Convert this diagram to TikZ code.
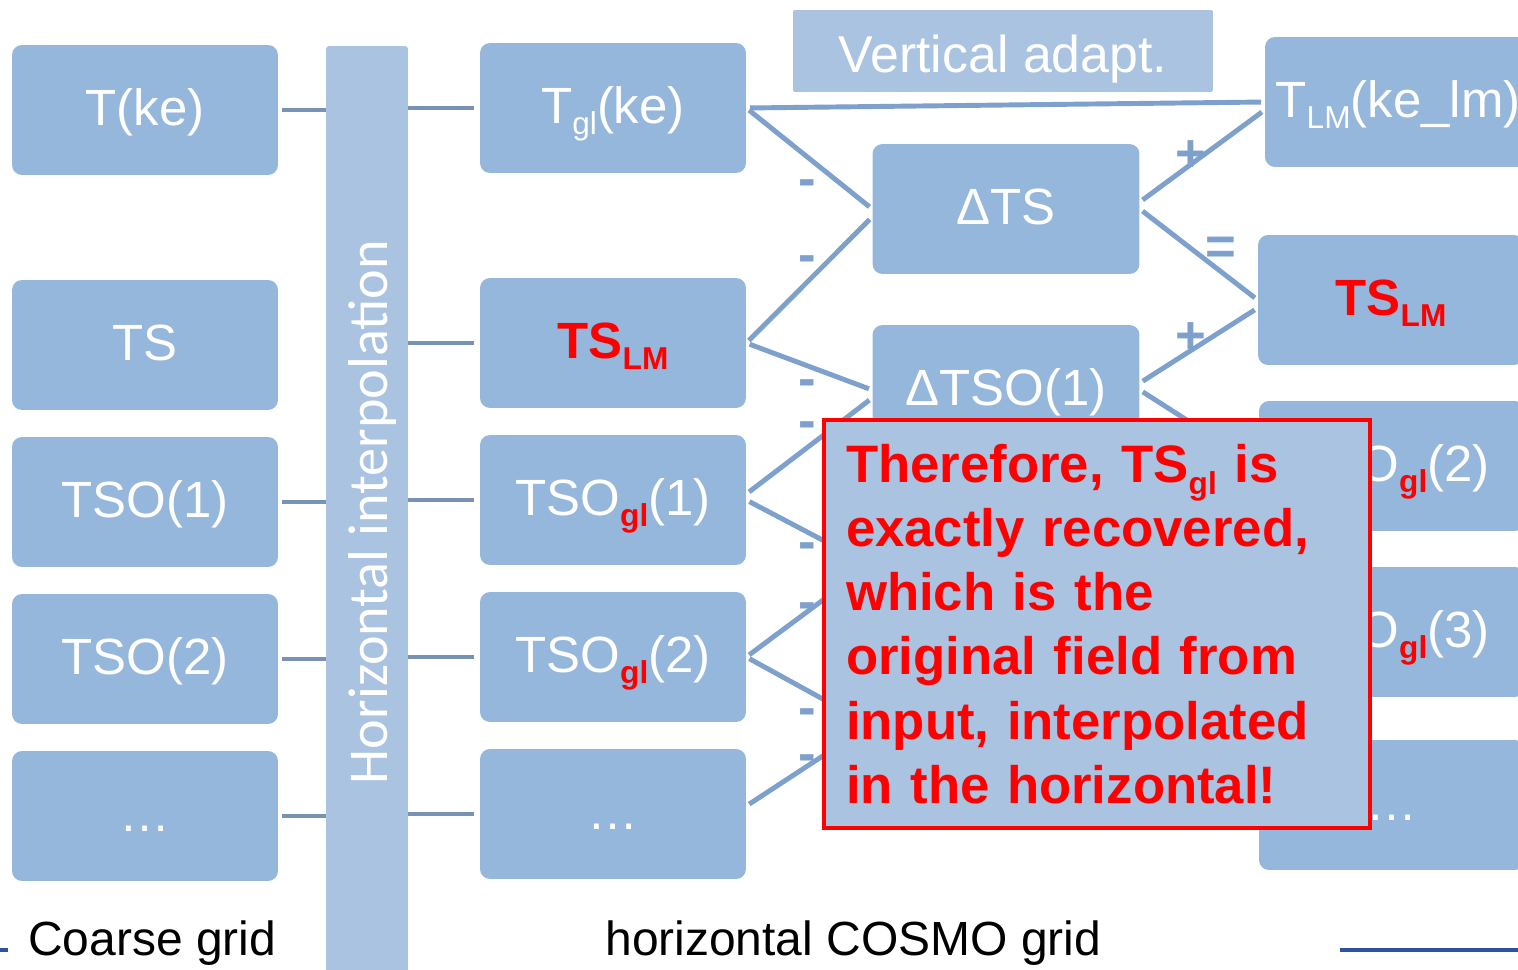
\documentclass[tikz,border=0pt]{standalone}
\usepackage{fontspec}
\setmainfont{Liberation Sans}
\newfontfamily\calfont{Carlito}
\usepackage{tikz}
\definecolor{boxblue}{RGB}{149,183,219}
\definecolor{paleblue}{RGB}{169,195,224}
\definecolor{linkblue}{RGB}{125,160,204}
\definecolor{stubblue}{RGB}{119,146,178}
\definecolor{slidered}{RGB}{255,0,0}
\definecolor{ruleblue}{RGB}{48,80,160}
\newcommand{\lowidx}[1]{\raisebox{-0.23em}{\fontsize{18}{22}\selectfont #1}}
\newcommand{\redidx}[1]{\lowidx{\textcolor{slidered}{\bfseries #1}}}
\tikzstyle{box} = [rectangle, fill=boxblue, rounded corners=0.2cm, minimum width=5.32cm, minimum height=2.6cm, text=white, font=\fontsize{29}{35}\selectfont, text height=23.2pt, text depth=6.1pt, inner sep=0pt]
\tikzstyle{pale} = [rectangle, fill=paleblue, inner sep=0pt]
\tikzstyle{conn} = [draw=linkblue, line width=2.8pt, shorten <=0.07cm, shorten >=0.07cm]
\tikzstyle{stub} = [draw=stubblue, line width=2.8pt]
\tikzstyle{sign} = [text=linkblue, font=\bfseries\fontsize{30}{36}\selectfont, text height=9pt, text depth=0pt, inner sep=0pt, anchor=base]
\tikzstyle{redbox} = [rectangle, fill=paleblue, draw=slidered, line width=2.4pt, minimum width=10.92cm, minimum height=8.16cm, text width=10.04cm, align=left, text=slidered, font=\bfseries\fontsize{30}{36.6}\selectfont, inner sep=0pt]
\tikzstyle{caption} = [anchor=base west, text=black, font=\fontsize{27.3}{33}\selectfont, inner sep=0pt]

\begin{document}
\begin{tikzpicture}
		[x=0.02cm, y=-0.02cm,
		every node/.style={inner sep=0pt}
		]
		\useasboundingbox (0,0) rectangle (1518,970);
		\clip (0,0) rectangle (1518,970);
		% interpolation bar
		\draw (367,511) node[pale, minimum width=1.64cm, minimum height=18.6cm, rounded corners=0.06cm](hbar){};
		\draw (387,512) node[rotate=90, anchor=base, text=white, font=\calfont\fontsize{32}{38}\selectfont](hlabel){Horizontal interpolation};
		\draw (1003,51) node[pale, minimum width=8.4cm, minimum height=1.64cm, rounded corners=0.04cm, text=white, font=\fontsize{29.5}{35}\selectfont, text height=27pt, text depth=3pt](vadapt){Vertical adapt.};
		% coarse grid
		\draw (145,110) node[box](c1){T(ke)};
		\draw (145,345) node[box](c2){TS};
		\draw (145,502) node[box](c3){TSO(1)};
		\draw (145,659) node[box](c4){TSO(2)};
		\draw (145,816) node[box](c5){…};
		% cosmo grid
		\draw (613,108) node[box](m1){T\lowidx{gl}(ke)};
		\draw (613,343) node[box](m2){\textcolor{slidered}{\bfseries TS\lowidx{LM}}};
		\draw (613,500) node[box](m3){TSO\redidx{gl}(1)};
		\draw (613,657) node[box](m4){TSO\redidx{gl}(2)};
		\draw (613,814) node[box](m5){…};
		\draw (1006,209) node[box, minimum width=5.34cm](dts){ΔTS};
		\draw (1006,390) node[box, minimum width=5.34cm](dso1){ΔTSO(1)};
		\coordinate (dso2) at (870,565);
		\coordinate (dso3) at (870,725);
		\draw (1398,102) node[box](r1){T\lowidx{LM}(ke\_lm)};
		\draw (1391,300) node[box](r2){\textcolor{slidered}{\bfseries TS\lowidx{LM}}};
		\draw (1392,466) node[box](r3){TSO\redidx{gl}(2)};
		\draw (1392,632) node[box](r4){TSO\redidx{gl}(3)};
		\draw (1392,805) node[box](r5){…};
		% stubs to the bar
		\foreach \row in {1,3,4,5}
		\draw[stub, shorten <=0.08cm] (c\row.east) -- (c\row.east -| hbar.west);
		\foreach \row in {1,...,5}
		\draw[stub, shorten >=0.12cm] (m\row.west -| hbar.east) -- (m\row.west);
		% differences
		\draw[conn] (m1.east) -- (r1.west);
		\draw[conn] (m1.east) -- (dts.west);
		\draw[conn] (m2.east) -- ([yshift=-0.16cm]dts.west);
		\draw[conn] (m2.east) -- (dso1.west);
		\draw[conn] ([yshift=0.12cm]m3.east) -- ([yshift=-0.16cm]dso1.west);
		\draw[conn] (m3.east) -- (dso2);
		\draw[conn] (m4.east) -- (dso2);
		\draw[conn] (m4.east) -- (dso3);
		\draw[conn] ([yshift=0.16cm]m5.east) -- (dso3);
		\draw[conn] ([yshift=0.14cm]dts.east) -- ([yshift=-0.16cm]r1.west);
		\draw[conn] (dts.east) -- (r2.west);
		\draw[conn] ([yshift=0.14cm]dso1.east) -- ([yshift=-0.16cm]r2.west);
		\draw[conn] (dso1.east) -- (r3.west);
		\foreach \y in {182,258,382,424,545,605,711,757}
		\draw (807,\y+14) node[sign](minus\y){-};
		\draw (1191,171) node[sign](plusA){+};
		\draw (1191,353) node[sign](plusB){+};
		\draw (1221,264) node[sign](equal){=};
		% remark
		\draw (1097,624) node[redbox](note){Therefore, TS\lowidx{gl} is\\ exactly recovered,\\ which is the\\ original field from\\ input, interpolated\\ in the horizontal!};
		% captions
		\draw (28,955) node[caption](coarse){Coarse grid};
		\draw (605,955) node[caption](cosmo){horizontal COSMO grid};
		\draw[ruleblue, line width=2.2pt] (0,950) -- (8,950);
		\draw[ruleblue, line width=2.2pt] (1340,950) -- (1518,950);
\end{tikzpicture}
\end{document}
